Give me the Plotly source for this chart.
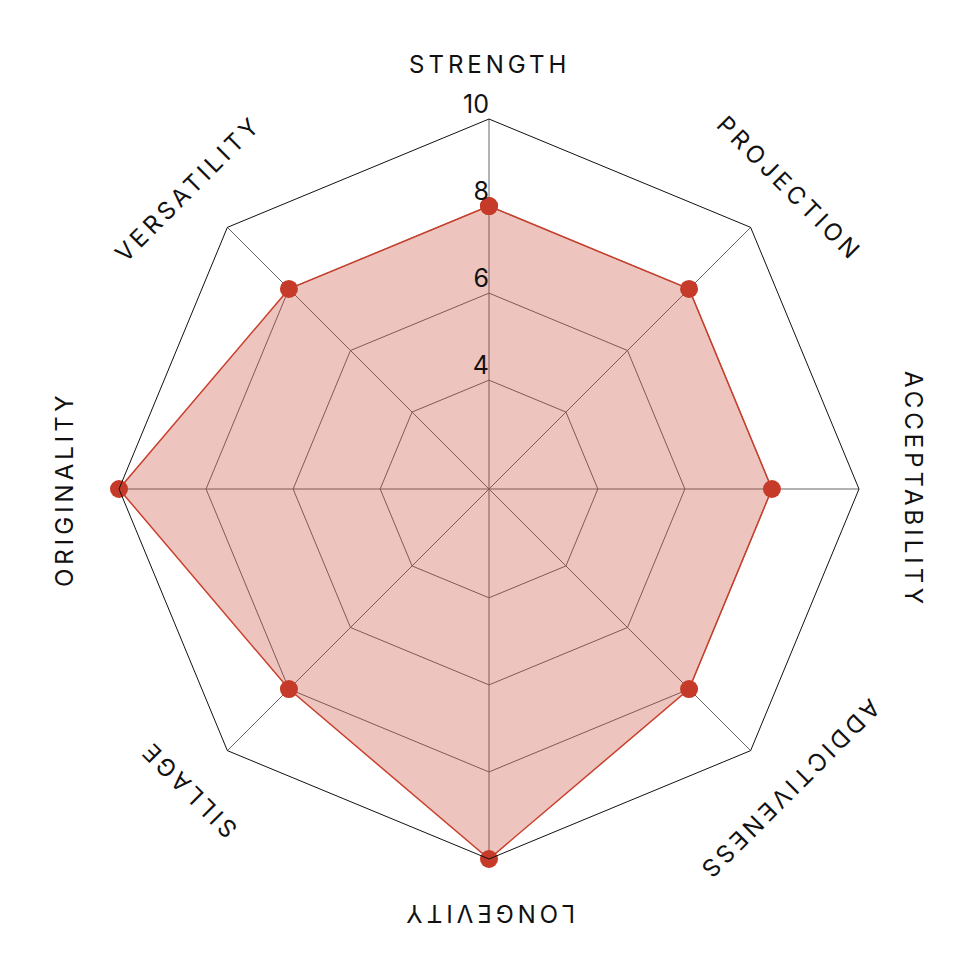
import math
import plotly.graph_objects as go

categories = ["STRENGTH", "PROJECTION", "ACCEPTABILITY", "ADDICTIVENESS",
              "LONGEVITY", "SILLAGE", "ORIGINALITY", "VERSATILITY"]
values = [8, 8, 8, 8, 10, 8, 10, 8]
tick_vals = [4, 6, 8, 10]
tick_text = ["4", "6", "8", "10"]

W = H = 980
CX, CY, RAD = 481, 481, 370

fig = go.Figure()
fig.add_trace(go.Scatterpolar(
    r=values + values[:1],
    theta=categories + categories[:1],
    mode="lines+markers",
    fill="toself",
    fillcolor="rgba(197,58,40,0.3)",
    line=dict(color="#C9402D", width=1.5),
    marker=dict(size=18, color="#C53A28"),
    hoverinfo="skip",
))
# radial tick labels, placed on the top spoke through the polar scale
fig.add_trace(go.Scatterpolar(
    r=tick_vals,
    theta=[categories[0]] * len(tick_vals),
    mode="text",
    text=tick_text,
    textposition="top left",
    textfont=dict(family="Inter", size=25, color="#111111"),
    hoverinfo="skip",
))

annotations = []
n = len(categories)
LR = 425
for i, c in enumerate(categories):
    ang = 360.0 * i / n
    a = math.radians(ang)
    x = (CX + LR * math.sin(a)) / W
    y = 1 - (CY - LR * math.cos(a)) / H
    ta = ang if ang <= 180 else ang - 360
    annotations.append(dict(
        x=x, y=y, xref="paper", yref="paper",
        text='<span style="letter-spacing:4px">' + c + '</span>',
        showarrow=False, textangle=ta,
        xanchor="center", yanchor="middle",
        font=dict(family="Inter", size=24, color="#111111"),
    ))

fig.update_layout(
    width=W, height=H,
    margin=dict(l=0, r=0, t=0, b=0),
    paper_bgcolor="white",
    showlegend=False,
    annotations=annotations,
    polar=dict(
        domain=dict(x=[(CX - RAD) / W, (CX + RAD) / W],
                    y=[1 - (CY + RAD) / H, 1 - (CY - RAD) / H]),
        bgcolor="white",
        gridshape="linear",
        angularaxis=dict(
            direction="clockwise", rotation=90,
            showticklabels=False, ticks="",
            linecolor="#111111", linewidth=1,
            gridcolor="#666666", gridwidth=1,
        ),
        radialaxis=dict(
            range=[1.5, 10], tickvals=tick_vals,
            angle=90, showticklabels=False,
            showline=False, ticks="",
            gridcolor="#666666", gridwidth=1,
        ),
    ),
)

fig.write_html("out.html")
